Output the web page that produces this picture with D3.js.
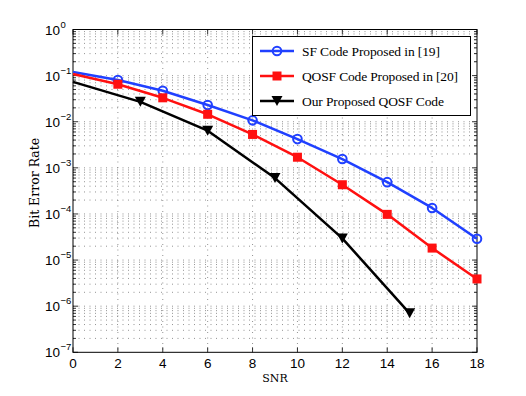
<!DOCTYPE html>
<html><head><meta charset="utf-8">
<script src="https://cdn.jsdelivr.net/npm/d3@7"></script>
<style>body{margin:0;background:#fff}</style>
</head><body>
<svg id="c" width="526" height="396"></svg>
<script>
const xTicks = [0,2,4,6,8,10,12,14,16,18];
const yExps = [0,-1,-2,-3,-4,-5,-6,-7];
const sfX = [0,2,4,6,8,10,12,14,16,18];
const sfY = [0.12,0.08,0.047,0.023,0.0107,0.0042,0.00155,0.00049,0.000135,0.000029];
const qosfX = [0,2,4,6,8,10,12,14,16,18];
const qosfY = [0.108,0.065,0.033,0.0145,0.0053,0.0017,0.00043,0.000098,0.0000182,0.0000039];
const oursX = [0,3,6,9,12,15];
const oursY = [0.073,0.027,0.0064,0.0006,0.0000295,0.0000007];
const legendLabels = ["SF Code Proposed in [19]","QOSF Code Proposed in [20]","Our Proposed QOSF Code"];
const xTitle = "SNR", yTitle = "Bit Error Rate";

const svg = d3.select("#c");
const L=73,R=477,T=29.5,B=352.3;
const x = d3.scaleLinear().domain([0,18]).range([L,R]);
const y = d3.scaleLog().domain([1e-7,1]).range([B,T]);

// grid
const g = svg.append("g");
const gridStyle = s => s.attr("stroke","#777").attr("stroke-width",0.8).attr("stroke-dasharray","1,4.5");
xTicks.forEach(t=>{ if(t>0&&t<18) gridStyle(g.append("line").attr("x1",x(t)).attr("x2",x(t)).attr("y1",T).attr("y2",B)); });
const minor=[];
for(let e=-7;e<0;e++){ for(let m=1;m<10;m++){ const v=m*Math.pow(10,e); minor.push({v,major:m===1}); } }
minor.forEach(d=>{ if(d.v>1e-7) gridStyle(g.append("line").attr("x1",L).attr("x2",R).attr("y1",y(d.v)).attr("y2",y(d.v))); });

// ticks all four sides
const tk = svg.append("g").attr("stroke","#000").attr("stroke-width",0.8);
xTicks.forEach(t=>{
  tk.append("line").attr("x1",x(t)).attr("x2",x(t)).attr("y1",B).attr("y2",B-5);
  tk.append("line").attr("x1",x(t)).attr("x2",x(t)).attr("y1",T).attr("y2",T+5);
});
minor.concat([{v:1,major:true}]).forEach(d=>{
  const len=d.major?5:3;
  tk.append("line").attr("x1",L).attr("x2",L+len).attr("y1",y(d.v)).attr("y2",y(d.v));
  tk.append("line").attr("x1",R).attr("x2",R-len).attr("y1",y(d.v)).attr("y2",y(d.v));
});
svg.append("rect").attr("x",L).attr("y",T).attr("width",R-L).attr("height",B-T).attr("fill","none").attr("stroke","#000").attr("stroke-width",1);

// tick labels
const sans="'Liberation Sans', Arial, sans-serif";
xTicks.forEach(t=>svg.append("text").attr("x",x(t)).attr("y",368).attr("text-anchor","middle").attr("font-family",sans).attr("font-size",13.5).text(t));
yExps.forEach(e=>{
  svg.append("text").attr("x",60).attr("y",y(Math.pow(10,e))+5).attr("text-anchor","end").attr("font-family",sans).attr("font-size",13.5).text("10");
  svg.append("text").attr("x",60.5).attr("y",y(Math.pow(10,e))-2).attr("font-family",sans).attr("font-size",9.5).text(e===0?"0":"\u2212"+(-e));
});
const serif="'DejaVu Serif',serif";
const lserif="'Liberation Serif','Times New Roman',serif";
svg.append("text").attr("x",(L+R)/2).attr("y",382).attr("text-anchor","middle").attr("font-family",serif).attr("font-size",11).text(xTitle);
svg.append("text").attr("transform",`translate(39,${(T+B)/2 - 8}) rotate(-90)`).attr("text-anchor","middle").attr("font-family",serif).attr("font-size",12.5).text(yTitle);

// series
const series=[
 {xs:sfX,ys:sfY,color:"#2040ff",marker:"circle"},
 {xs:qosfX,ys:qosfY,color:"#ff1010",marker:"square"},
 {xs:oursX,ys:oursY,color:"#000",marker:"tri"}];
const line=d3.line().x(d=>x(d[0])).y(d=>y(d[1]));
function drawMarker(sel,type,color,cx,cy){
  if(type==="circle") sel.append("circle").attr("cx",cx).attr("cy",cy).attr("r",4.3).attr("fill","none").attr("stroke",color).attr("stroke-width",2);
  else if(type==="square") sel.append("rect").attr("x",cx-4.5).attr("y",cy-4.5).attr("width",9).attr("height",9).attr("fill",color);
  else sel.append("path").attr("d",`M${cx-5.5},${cy-5} L${cx+5.5},${cy-5} L${cx},${cy+5} Z`).attr("fill",color);
}
series.forEach(s=>{
  const pts=s.xs.map((v,i)=>[v,s.ys[i]]);
  svg.append("path").datum(pts).attr("d",line).attr("fill","none").attr("stroke",s.color).attr("stroke-width",2.5).attr("stroke-linejoin","round");
  pts.forEach(p=>{ if(p[0]>0) drawMarker(svg,s.marker,s.color,x(p[0]),y(p[1])); });
});

// legend
const lg=svg.append("g");
const legWidths=[138,156,142];
lg.append("rect").attr("x",252.5).attr("y",36.5).attr("width",218).attr("height",79).attr("fill","#fff").attr("stroke","#000").attr("stroke-width",1);
series.forEach((s,i)=>{
  const yy=51+i*25;
  lg.append("line").attr("x1",260).attr("x2",294).attr("y1",yy).attr("y2",yy).attr("stroke",s.color).attr("stroke-width",2.5);
  drawMarker(lg,s.marker,s.color,277,yy);
  lg.append("text").attr("x",302).attr("y",yy+4.5).attr("font-family",lserif).attr("font-size",13.5)
    .attr("textLength",legWidths[i]).attr("lengthAdjust","spacing").text(legendLabels[i]);
});
</script>
</body></html>
